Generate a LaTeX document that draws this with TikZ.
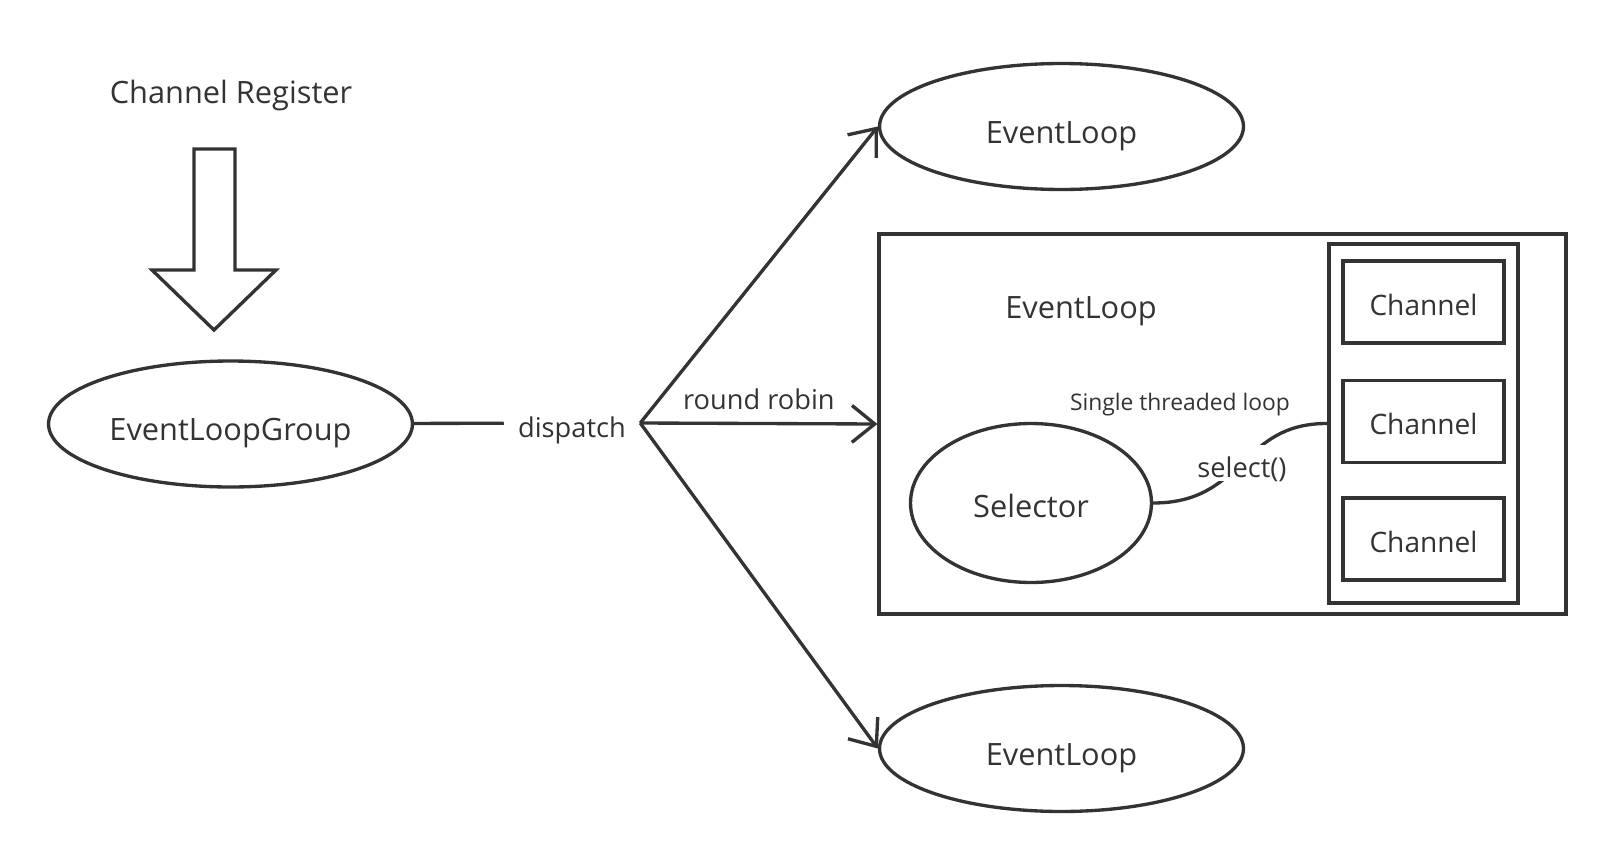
\documentclass[tikz,border=0pt]{standalone}
\usepackage{fontspec}
\setmainfont{Open Sans}
\usetikzlibrary{arrows.meta,shapes.geometric}
\definecolor{ink}{HTML}{333333}

\begin{document}
\begin{tikzpicture}[x=0.02cm,y=-0.02cm,
        every node/.style={text=ink,font=\fontsize{17.5}{20}\selectfont,text depth=0pt},
        line/.style={draw=ink,line width=1.9pt},
        arr/.style={line,-{Straight Barb[length=13pt,width=21pt,line width=1.9pt]}},
        evloop/.style={line,ellipse,minimum width=7.28cm,minimum height=2.52cm,inner sep=0pt,text height=19pt},
        chanbox/.style={line,rectangle,minimum width=3.22cm,minimum height=1.64cm,text height=14.8pt,font=\fontsize{16}{18}\selectfont},
        small/.style={font=\fontsize{15.5}{18}\selectfont,text height=16pt}
    ]
    \useasboundingbox (0,0) rectangle (1616,862);
    \node[anchor=base] (reg) at (231,103) {Channel Register};
    \draw[line,line join=miter] (194,149) -- (235,149) -- (235,270) -- (276,270) -- (214,330)
        -- (152,270) -- (194,270) -- cycle;
    \node[evloop] (elg) at (230.5,424) {EventLoopGroup};
    \node[small,inner xsep=8pt,inner ysep=3pt] (disp) at (572,423) {dispatch};
    \node[evloop] (top) at (1061.5,126.5) {EventLoop};
    \node[evloop] (bot) at (1061.5,748.5) {EventLoop};
    \node[line,rectangle,minimum width=13.74cm,minimum height=7.6cm] (box) at (1222.5,424) {};
    \node[anchor=base] (title) at (1081,318) {EventLoop};
    \node[line,ellipse,minimum width=4.82cm,minimum height=3.18cm,inner sep=0pt,text height=16.5pt] (sel) at (1031,503) {Selector};
    \node[line,rectangle,minimum width=3.78cm,minimum height=7.18cm] (chans) at (1423.5,423.5) {};
    \node[chanbox] (ch1) at (1423.5,302) {Channel};
    \node[chanbox] (ch2) at (1423.5,421.5) {Channel};
    \node[chanbox] (ch3) at (1423.5,539) {Channel};
    \node[anchor=base,font=\fontsize{13}{15}\selectfont] (single) at (1180,410) {Single threaded loop};
    \draw[line] (elg) -- (disp);
    \draw[arr] (disp.east) -- (top.west);
    \draw[arr] (disp.east) -- node[small,above=3.5pt,text height=12pt] {round robin} (box.west);
    \draw[arr] (disp.east) -- (bot.west);
    \draw[line] (sel.east) .. controls (1245,503) and (1240,423) .. node[small,fill=white,inner xsep=1pt,inner ysep=2pt,pos=0.5] {select()} (chans.west);
\end{tikzpicture}
\end{document}
